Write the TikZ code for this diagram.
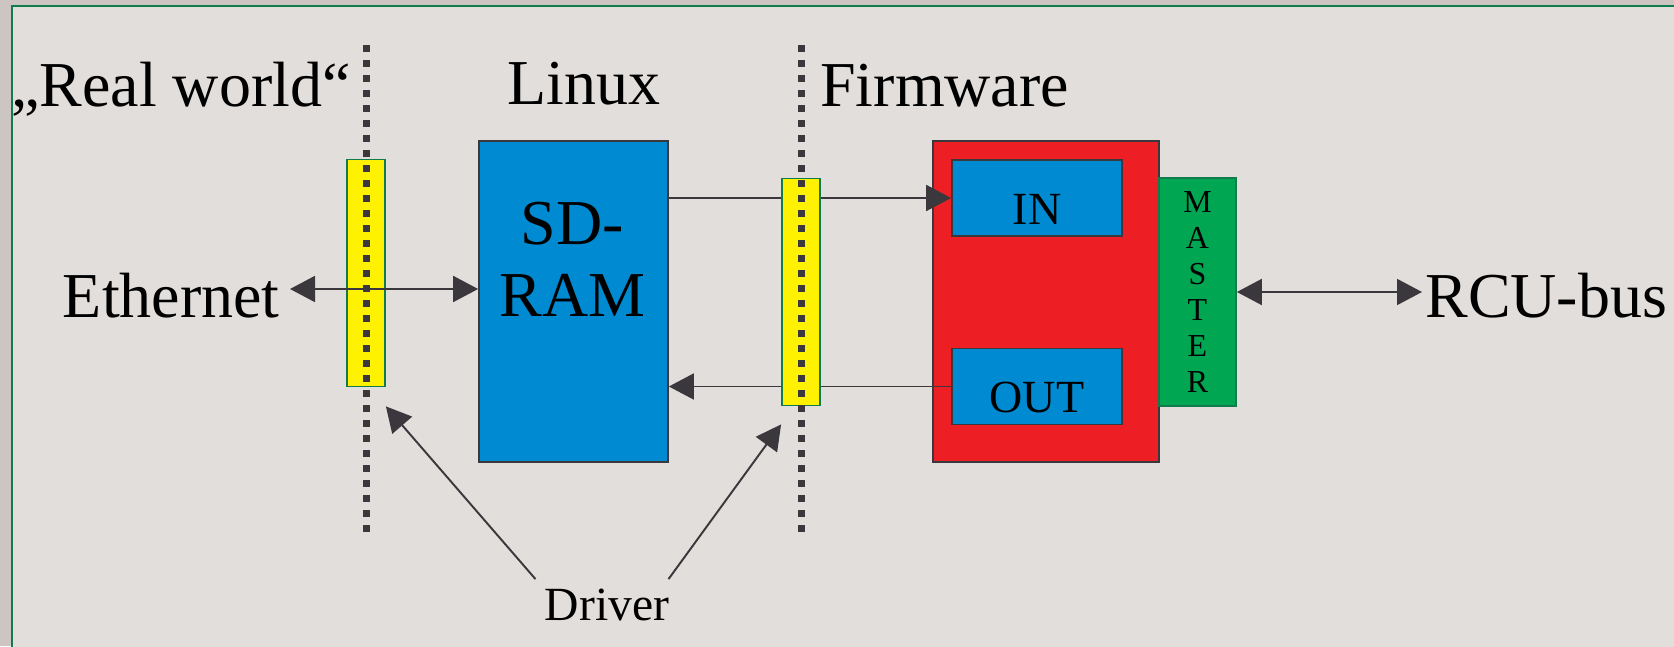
\documentclass[tikz,border=0pt]{standalone}
\usepackage{fontspec}
\setmainfont{Liberation Serif}
\usetikzlibrary{arrows.meta}

\definecolor{outergray}{RGB}{204,197,194}
\definecolor{panelgray}{RGB}{226,222,219}
\definecolor{framegreen}{RGB}{16,124,76}
\definecolor{ramblue}{RGB}{0,138,210}
\definecolor{fwred}{RGB}{238,31,36}
\definecolor{mastergreen}{RGB}{0,166,81}
\definecolor{slotyellow}{RGB}{255,242,0}
\definecolor{linegray}{RGB}{58,56,60}

\tikzset{
  heading/.style={inner sep=0pt, font=\fontsize{36.4}{41}\selectfont},
  block/.style={draw=linegray, line width=1pt, inner sep=0pt},
  portbox/.style={block, fill=ramblue, minimum width=3.4cm, minimum height=1.52cm,
    text height=1.05cm, text depth=0pt, font=\fontsize{26.2}{30}\selectfont},
  slot/.style={draw=framegreen, line width=1pt, fill=slotyellow, inner sep=0pt,
    minimum width=0.76cm, minimum height=4.54cm},
  divider/.style={linegray, line width=0.14cm, dash pattern=on 0.14cm off 0.16cm},
  conn/.style={linegray, line width=1.1pt},
  to/.style={conn, -{Triangle[length=0.5cm,width=0.52cm]}},
  both/.style={conn, {Triangle[length=0.5cm,width=0.52cm]}-{Triangle[length=0.5cm,width=0.52cm]}}
}

\begin{document}
\begin{tikzpicture}
\useasboundingbox (0,0) rectangle (33.48,12.92);
\fill[outergray] (0,0) rectangle (33.48,12.92);
\draw[framegreen, line width=1.2pt, fill=panelgray] (0.24,-1) rectangle (34.5,12.8);

% headings
\node[heading, anchor=base west] (realw) at (0.22,10.78) {„Real world“};
\node[heading, anchor=base] (linux) at (11.68,10.84) {Linux};
\node[heading, anchor=base west] (fw) at (16.4,10.78) {Firmware};

% linux side
\node[block, fill=ramblue, minimum width=3.78cm, minimum height=6.42cm] (sdram) at (11.47,6.89) {};
\node[heading, align=center, anchor=north] (sdtext) at (11.45,8.88) {SD-\\RAM};

% firmware side
\node[block, fill=fwred, minimum width=4.52cm, minimum height=6.42cm] (fpga) at (20.92,6.89) {};
\node[portbox] (in) at (20.74,8.96) {IN};
\node[portbox] (out) at (20.74,5.19) {OUT};
\node[block, draw=framegreen, fill=mastergreen, minimum width=1.54cm, minimum height=4.56cm,
  align=center, font=\fontsize{18.2}{20.5}\selectfont] (master) at (23.95,7.08) {M\\A\\S\\T\\E\\R};

\draw[to] (sdram.east |- in.west) -- (in.west);
\draw[to] (out.west) -- (sdram.east |- out.west);

% driver slots
\node[slot] (slotA) at (7.32,7.46) {};
\node[slot] (slotB) at (16.02,7.08) {};

\node[heading, anchor=east, text height=1.12cm, text depth=0pt, inner xsep=0.2cm] (ether) at (5.8,7.14) {Ethernet};
\draw[both] (ether.east) -- (sdram.west |- ether.east);

\node[heading, anchor=west, text height=1cm, text depth=0pt, inner xsep=0.06cm] (rcu) at (28.44,7.08) {RCU-bus};
\draw[both] (master.east) -- (rcu.west);

\draw[divider] (slotA.center |- 0,12.02) -- (slotA.center |- 0,2.2);
\draw[divider] (slotB.center |- 0,12.02) -- (slotB.center |- 0,2.2);

\node[anchor=base, inner sep=0.18cm, font=\fontsize{27.1}{31}\selectfont] (driver) at (12.14,0.52) {Driver};
\draw[to] (driver.north west) -- ([yshift=-0.38cm]slotA.south east);
\draw[to] ([xshift=-0.2cm]driver.north east) -- ([yshift=-0.36cm]slotB.south west);
\end{tikzpicture}
\end{document}
